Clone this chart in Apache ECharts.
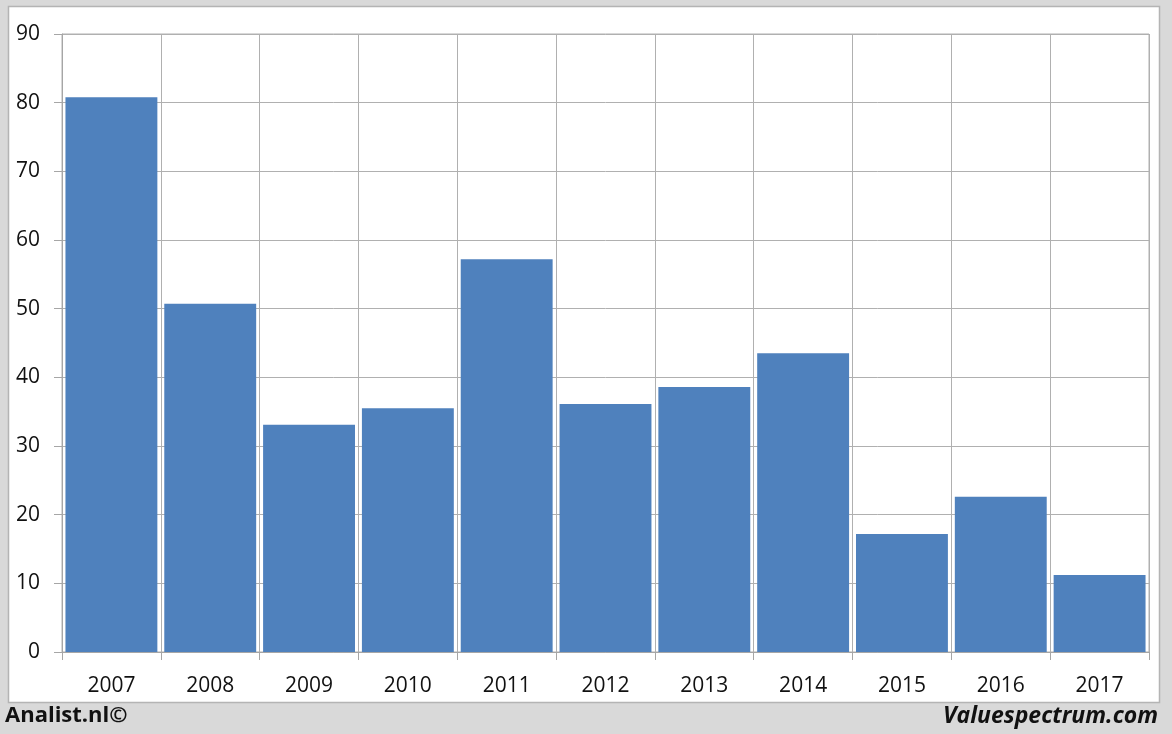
<!DOCTYPE html>
<html>
<head>
<meta charset="utf-8">
<script src="https://cdn.jsdelivr.net/npm/echarts@6/dist/echarts.min.js"></script>
<style>
html,body{margin:0;padding:0;background:#d9d9d9;}
#c{width:1172px;height:734px;}
</style>
</head>
<body>
<div id="c"></div>
<script>
const years = ['2007','2008','2009','2010','2011','2012','2013','2014','2015','2016','2017'];
const values = [80.8, 50.7, 33.1, 35.5, 57.2, 36.1, 38.6, 43.5, 17.2, 22.6, 11.2];
const yTicks = {min: 0, max: 90, interval: 10};

const chart = echarts.init(document.getElementById('c'), null, {renderer: 'canvas'});
const font = '"Open Sans", "Liberation Sans", sans-serif';
chart.setOption({
  backgroundColor: '#d9d9d9',
  animation: false,
  graphic: [
    {type: 'rect', z: -10, shape: {x: 8.5, y: 6.5, width: 1151, height: 696},
     style: {fill: '#ffffff', stroke: '#b4b4b4', lineWidth: 1.5}},
    {type: 'text', left: 5, top: 705,
     style: {text: 'Analist.nl©', font: 'bold 22px ' + font, fill: '#111'}},
    {type: 'text', right: 14, top: 705,
     style: {text: 'Valuespectrum.com', font: 'italic bold 23px ' + font, fill: '#111'}}
  ],
  grid: {left: 62, right: 23, top: 34, bottom: 82, show: true, borderColor: '#b0b0b0', borderWidth: 1, backgroundColor: 'transparent'},
  xAxis: {
    type: 'category',
    data: years,
    boundaryGap: true,
    axisLine: {show: true, lineStyle: {color: '#a6a6a6'}},
    axisTick: {show: true, length: 8, alignWithLabel: false, lineStyle: {color: '#a6a6a6'}},
    splitLine: {show: true, lineStyle: {color: '#b0b0b0', width: 1}},
    axisLabel: {color: '#111', fontSize: 21, fontFamily: font, margin: 24}
  },
  yAxis: {
    type: 'value',
    min: yTicks.min, max: yTicks.max, interval: yTicks.interval,
    axisLine: {show: true, lineStyle: {color: '#a6a6a6'}},
    axisTick: {show: true, length: 8, lineStyle: {color: '#a6a6a6'}},
    splitLine: {show: true, lineStyle: {color: '#b0b0b0', width: 1}},
    axisLabel: {color: '#111', fontSize: 21, fontFamily: font, margin: 22}
  },
  series: [{
    type: 'bar',
    data: values,
    barCategoryGap: '7%',
    itemStyle: {color: '#4f81bd'},
    silent: true
  }]
});
</script>
</body>
</html>
